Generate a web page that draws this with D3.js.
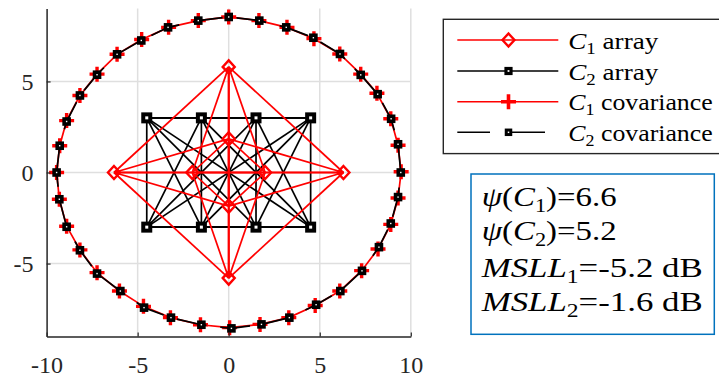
<!DOCTYPE html>
<html>
<head>
<meta charset="utf-8">
<script src="https://cdn.jsdelivr.net/npm/d3@7"></script>
<style>
  body { margin: 0; background: #fff; }
  svg { display: block; }
  svg text { font-family: "Liberation Serif", "Tinos", "Times New Roman", "DejaVu Serif", "Noto Serif", "FreeSerif", serif !important; }
</style>
</head>
<body>
<div id="chart"></div>
<script>
// tick labels
const xTicks = [-10, -5, 0, 5, 10];
const yTicks = [-5, 0, 5];

// C1 array (red diamonds)
const c1ArrayX = [0, 0, 0, 0, -6.3, -2.0, 2.0, 6.3];
const c1ArrayY = [5.8, 1.85, -1.85, -5.8, 0, 0, 0, 0];

// C2 array (black squares)
const c2ArrayX = [-4.5, -1.5, 1.5, 4.5, -4.5, -1.5, 1.5, 4.5];
const c2ArrayY = [3, 3, 3, 3, -3, -3, -3, -3];

// C1 covariance (red +), closed ring
const c1CovX = [-9.45, -9.28, -8.9, -8.17, -7.23, -6.13, -4.78, -3.3, -1.67, 0, 1.66, 3.2, 4.68, 6.1, 7.25, 8.14, 8.9, 9.3, 9.47,
  9.3, 8.9, 8.2, 7.3, 6.1, 4.75, 3.3, 1.72, 0.05, -1.55, -3.2, -4.68, -6.0, -7.23, -8.17, -8.9, -9.3];
const c1CovY = [0, 1.47, 2.85, 4.23, 5.4, 6.49, 7.3, 7.97, 8.34, 8.54, 8.34, 7.97, 7.35, 6.51, 5.4, 4.35, 2.95, 1.5, 0.04,
  -1.4, -2.85, -4.2, -5.39, -6.51, -7.3, -7.97, -8.34, -8.52, -8.36, -7.97, -7.35, -6.51, -5.5, -4.25, -2.95, -1.47];

// C2 covariance (black squares, dashed), closed ring
const c2CovX = [-9.45, -9.28, -8.9, -8.17, -7.23, -6.13, -4.8, -3.33, -1.67, 0, 1.68, 3.16, 4.65, 6.11, 7.25, 8.18, 8.92, 9.3, 9.45,
  9.3, 8.9, 8.25, 7.32, 6.13, 4.8, 3.33, 1.8, 0.15, -1.5, -3.17, -4.65, -5.95, -7.23, -8.17, -8.9, -9.3];
const c2CovY = [0, 1.47, 2.8, 4.23, 5.37, 6.49, 7.25, 7.97, 8.34, 8.54, 8.34, 7.97, 7.4, 6.51, 5.36, 4.3, 2.95, 1.55, 0.0,
  -1.35, -2.8, -4.1, -5.4, -6.51, -7.26, -7.97, -8.34, -8.56, -8.36, -7.97, -7.42, -6.51, -5.55, -4.27, -2.98, -1.47];

// legend and annotation texts
const legendNames = ["array", "array", "covariance", "covariance"];
const legendSubs = ["1", "2", "1", "2"];
const infoPsi = [["1", "6.6"], ["2", "5.2"]];
const infoMsll = [["1", "-5.2 dB"], ["2", "-1.6 dB"]];

const width = 719, height = 377;
const red = "#ff0000", black = "#000000", axisColor = "#262626", gridColor = "#dfdfdf";

const svg = d3.select("#chart").append("svg")
  .attr("width", width)
  .attr("height", height);

const x = d3.scaleLinear().domain([-10, 10]).range([46.6, 410.8]);
const y = d3.scaleLinear().domain([-9, 9]).range([336.4, 8.6]);

// grid
svg.append("g").selectAll("line")
  .data(xTicks.filter(d => d !== -10))
  .enter().append("line")
  .attr("x1", d => x(d)).attr("x2", d => x(d))
  .attr("y1", y(9)).attr("y2", y(-9))
  .attr("stroke", gridColor).attr("stroke-width", 1.5);
svg.append("g").selectAll("line")
  .data(yTicks)
  .enter().append("line")
  .attr("x1", x(-10)).attr("x2", x(10))
  .attr("y1", d => y(d)).attr("y2", d => y(d))
  .attr("stroke", gridColor).attr("stroke-width", 1.5);

// helpers
function pairs(xs, ys) {
  const pts = xs.map((v, i) => [v, ys[i]]);
  const out = [];
  for (let i = 0; i < pts.length; i++) {
    for (let j = i + 1; j < pts.length; j++) out.push([pts[i], pts[j]]);
  }
  return out;
}
function diamondPath(cx, cy, w, h) {
  return `M${cx},${cy - h}L${cx + w},${cy}L${cx},${cy + h}L${cx - w},${cy}Z`;
}
function drawDiamond(g, cx, cy, s) {
  g.append("path").attr("d", diamondPath(cx, cy, 6 * s, 6.5 * s))
    .attr("fill", "none").attr("stroke", red).attr("stroke-width", 2.4);
}
function drawSquare(g, cx, cy, side, sw) {
  g.append("rect").attr("x", cx - side / 2).attr("y", cy - side / 2)
    .attr("width", side).attr("height", side)
    .attr("fill", "#fff").attr("stroke", black).attr("stroke-width", sw);
}
function drawPlus(g, cx, cy, r, sw) {
  g.append("path").attr("d", `M${cx - r},${cy}H${cx + r}M${cx},${cy - r}V${cy + r}`)
    .attr("stroke", red).attr("stroke-width", sw).attr("fill", "none");
}

// C2 array edges (black)
svg.append("g").selectAll("line")
  .data(pairs(c2ArrayX, c2ArrayY))
  .enter().append("line")
  .attr("x1", d => x(d[0][0])).attr("y1", d => y(d[0][1]))
  .attr("x2", d => x(d[1][0])).attr("y2", d => y(d[1][1]))
  .attr("stroke", black).attr("stroke-width", 1.7);

// C1 array edges (red)
svg.append("g").selectAll("line")
  .data(pairs(c1ArrayX, c1ArrayY))
  .enter().append("line")
  .attr("x1", d => x(d[0][0])).attr("y1", d => y(d[0][1]))
  .attr("x2", d => x(d[1][0])).attr("y2", d => y(d[1][1]))
  .attr("stroke", red).attr("stroke-width", 1.7);

const markers = svg.append("g");
c2ArrayX.forEach((v, i) => drawSquare(markers, x(v), y(c2ArrayY[i]), 7, 4));
c1ArrayX.forEach((v, i) => drawDiamond(markers, x(v), y(c1ArrayY[i]), 1));

// covariance rings
const ring = d3.line().x(d => x(d[0])).y(d => y(d[1])).curve(d3.curveLinearClosed);
const c1Cov = c1CovX.map((v, i) => [v, c1CovY[i]]);
const c2Cov = c2CovX.map((v, i) => [v, c2CovY[i]]);

svg.append("path").attr("d", ring(c1Cov))
  .attr("fill", "none").attr("stroke", red).attr("stroke-width", 1.7);
const c1g = svg.append("g");
c1Cov.forEach(d => drawPlus(c1g, x(d[0]), y(d[1]), 7.5, 3.4));

svg.append("path").attr("d", ring(c2Cov))
  .attr("fill", "none").attr("stroke", black).attr("stroke-width", 1.7)
  .attr("stroke-dasharray", "30,14");
const c2g = svg.append("g");
c2Cov.forEach(d => drawSquare(c2g, x(d[0]), y(d[1]), 5, 3.6));

// axes
const xAxis = svg.append("g")
  .attr("transform", `translate(0,${y(-9)})`)
  .call(d3.axisBottom(x).tickValues(xTicks).tickSizeInner(-4).tickSizeOuter(0).tickFormat(d => String(d)));
xAxis.selectAll("text").attr("y", 37).attr("dy", 0);

const yAxis = svg.append("g")
  .attr("transform", `translate(${x(-10)},0)`)
  .call(d3.axisLeft(y).tickValues(yTicks).tickSizeInner(-4).tickSizeOuter(0).tickFormat(d => String(d)));
yAxis.selectAll("text").attr("x", -13).attr("dy", "0.34em");

[xAxis, yAxis].forEach(a => {
  a.attr("font-family", null);
  a.select(".domain").attr("stroke", axisColor).attr("stroke-width", 1.5);
  a.selectAll(".tick line").attr("stroke", axisColor).attr("stroke-width", 1.2);
  a.selectAll(".tick text").attr("fill", "#262626").attr("font-size", 24);
});

// legend
const legend = svg.append("g");
legend.append("rect")
  .attr("x", 443.3).attr("y", 19.3).attr("width", 300).attr("height", 134.3)
  .attr("fill", "#fff").attr("stroke", axisColor).attr("stroke-width", 1.4);

const rowY = [40, 71, 101.7, 132.3];
const textLens = [90, 90, 144.4, 144.4];
legendNames.forEach((name, i) => {
  const cy = rowY[i];
  const isRed = i % 2 === 0;
  const lg = legend.append("g");
  if (i === 3) {
    lg.append("line").attr("x1", 457.3).attr("x2", 490).attr("y1", cy).attr("y2", cy)
      .attr("stroke", black).attr("stroke-width", 1.6);
    lg.append("line").attr("x1", 507.7).attr("x2", 545).attr("y1", cy).attr("y2", cy)
      .attr("stroke", black).attr("stroke-width", 1.6);
  } else {
    lg.append("line").attr("x1", 457.3).attr("x2", 558.3).attr("y1", cy).attr("y2", cy)
      .attr("stroke", isRed ? red : black).attr("stroke-width", 1.6);
  }
  if (i === 0) drawDiamond(lg, 508.5, cy, 1);
  if (i === 1) drawSquare(lg, 508.5, cy, 5, 3.2);
  if (i === 2) drawPlus(lg, 508.5, cy, 7.5, 3.6);
  if (i === 3) drawSquare(lg, 508.5, cy, 4.5, 3);

  const t = lg.append("text")
    .attr("x", 568.3).attr("y", cy + 8.5)
    .attr("font-size", 23).attr("fill", "#000")
    .attr("textLength", textLens[i]).attr("lengthAdjust", "spacingAndGlyphs");
  t.append("tspan").attr("font-style", "italic").text("C");
  t.append("tspan").attr("font-size", 16).attr("dy", 5).text(legendSubs[i]);
  t.append("tspan").attr("dy", -5).text("\u00a0" + name);
});

// annotation box
const info = svg.append("g");
info.append("rect")
  .attr("x", 471).attr("y", 174).attr("width", 243.3).attr("height", 160.3)
  .attr("fill", "#fff").attr("stroke", "#0072BD").attr("stroke-width", 1.5);

const infoBase = [206, 240, 277, 311];
infoPsi.forEach((d, i) => {
  const t = info.append("text").attr("x", 481.7).attr("y", infoBase[i])
    .attr("font-size", 28).attr("fill", "#000")
    .attr("textLength", 135).attr("lengthAdjust", "spacingAndGlyphs");
  t.append("tspan").attr("font-style", "italic").text("\u03c8");
  t.append("tspan").text("(");
  t.append("tspan").attr("font-style", "italic").text("C");
  t.append("tspan").attr("font-size", 19).attr("dy", 6).text(d[0]);
  t.append("tspan").attr("dy", -6).text(")=" + d[1]);
});
infoMsll.forEach((d, i) => {
  const t = info.append("text").attr("x", 481.7).attr("y", infoBase[i + 2])
    .attr("font-size", 28).attr("fill", "#000")
    .attr("textLength", 221).attr("lengthAdjust", "spacingAndGlyphs");
  t.append("tspan").attr("font-style", "italic").text("MSLL");
  t.append("tspan").attr("font-size", 19).attr("dy", 6).text(d[0]);
  t.append("tspan").attr("dy", -6).text("=" + d[1]);
});
</script>
</body>
</html>
